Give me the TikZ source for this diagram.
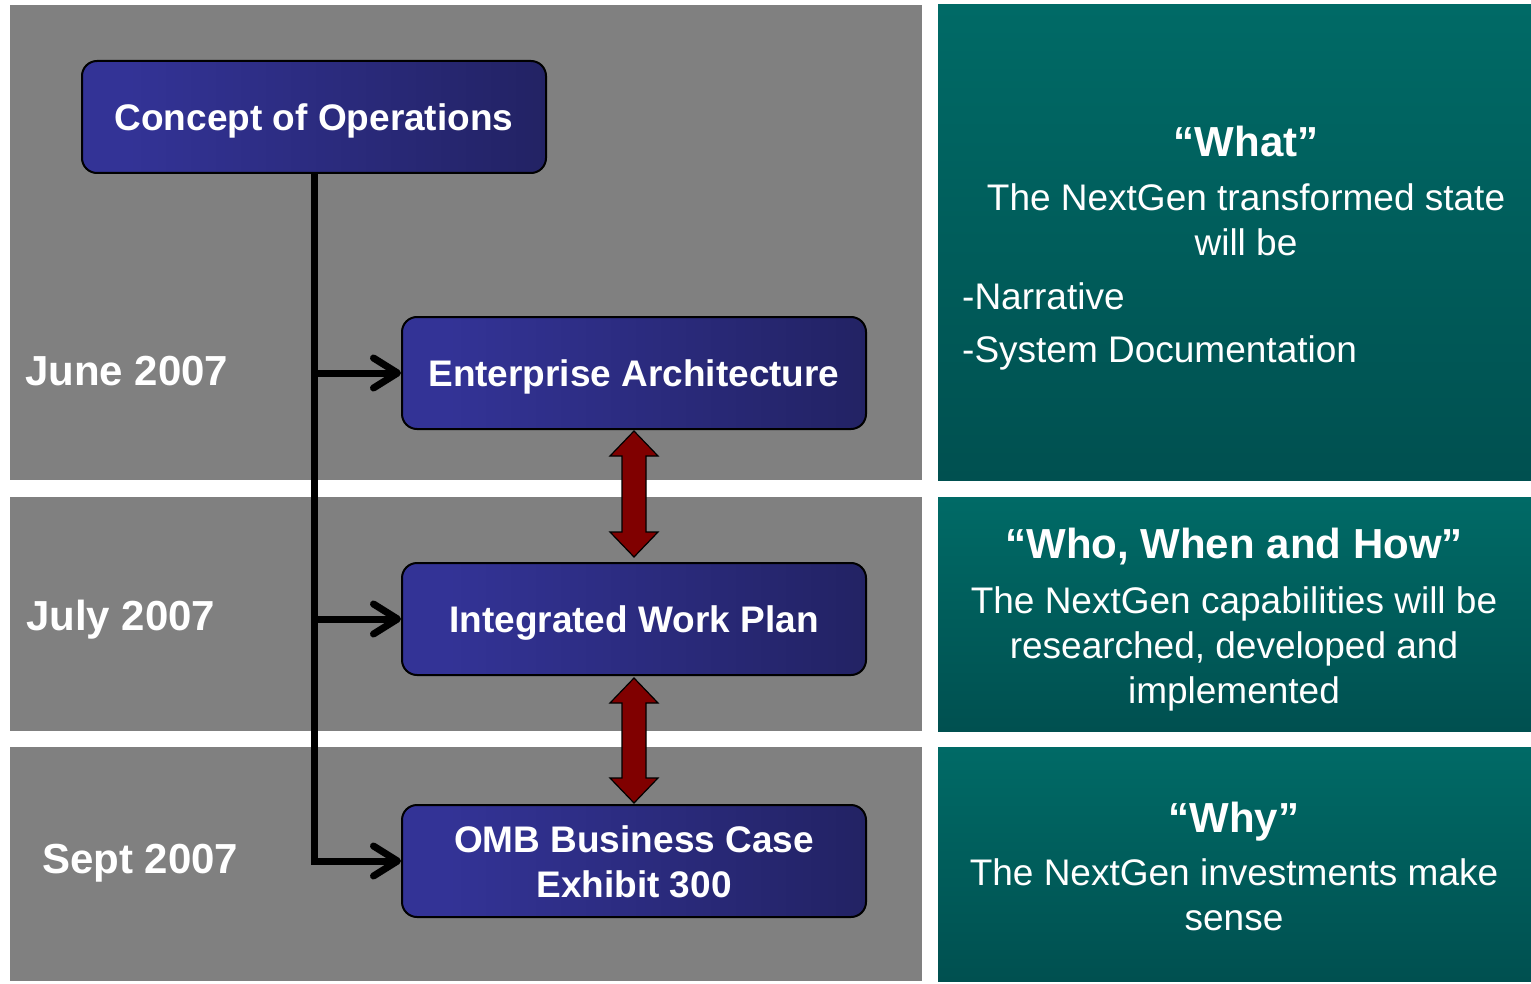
\documentclass[tikz,border=0pt]{standalone}
\usepackage{fontspec}
\setmainfont{Liberation Sans}
\usetikzlibrary{arrows.meta,calc}
\definecolor{panelgray}{RGB}{128,128,128}
\definecolor{tealtop}{RGB}{0,106,102}
\definecolor{tealbot}{RGB}{0,80,80}
\definecolor{boxL}{RGB}{51,51,150}
\definecolor{boxR}{RGB}{25,25,72}
\definecolor{arrred}{RGB}{128,0,0}
\pgfdeclarehorizontalshading{boxshade}{100bp}{color(0bp)=(boxL); color(30bp)=(boxL); color(100bp)=(boxR)}
\tikzset{
  graypanel/.style={fill=panelgray},
  tealpanel/.style={top color=tealtop,bottom color=tealbot,draw=none},
  stepbox/.style={draw=black,line width=2pt,rounded corners=15pt,shading=boxshade,
    minimum width=464pt,minimum height=112pt,inner sep=0pt,text=white,align=center,
    font=\fontsize{37}{45}\selectfont\bfseries,text height=27pt,text depth=0pt},
  datelbl/.style={text=white,font=\fontsize{42}{50}\selectfont\bfseries,anchor=base west,inner sep=0pt},
  ttl/.style={text=white,font=\fontsize{42}{50}\selectfont\bfseries,anchor=base,inner sep=0pt},
  body/.style={text=white,font=\fontsize{37}{45}\selectfont,anchor=base,inner sep=0pt,align=center},
  conn/.style={line width=7pt,draw=black,-{Straight Barb[length=24pt,width=30pt,round]}},
  dbl/.style={fill=arrred,draw=black,line width=1.2pt,line join=miter},
}
\begin{document}
\begin{tikzpicture}[x=1pt,y=-1pt]
\useasboundingbox (0,0) rectangle (1531,984);
\fill[white] (0,0) rectangle (1531,984);
% background panels
\fill[graypanel] (10,5) rectangle (922,480);
\fill[graypanel] (10,497) rectangle (922,731);
\fill[graypanel] (10,747) rectangle (922,981);
\shade[tealpanel] (938,5) rectangle (1531,480);
\shade[tealpanel] (938,497) rectangle (1531,731);
\shade[tealpanel] (938,747) rectangle (1531,981);
% dates
\node[datelbl] (d1) at (25,385) {June 2007};
\node[datelbl] (d2) at (26,630) {July 2007};
\node[datelbl] (d3) at (42,873) {Sept 2007};
% boxes
\node[stepbox] (conops) at (314,117) {Concept of Operations};
\node[stepbox] (ea) at (634,373) {Enterprise Architecture};
\node[stepbox] (iwp) at (634,619) {Integrated Work Plan};
\node[stepbox,text height=72pt] (omb) at (634,861) {OMB Business Case\\Exhibit 300};
% connectors
\draw[conn] (conops.south) |- (omb.west);
\draw[conn] (conops.south |- ea.west) -- (ea.west);
\draw[conn] (conops.south |- iwp.west) -- (iwp.west);
% double arrows
\coordinate (a1) at ($(ea.south)+(0,1)$);
\coordinate (b1) at ($(iwp.north)+(0,-5)$);
\coordinate (a2) at ($(iwp.south)+(0,2)$);
\coordinate (b2) at ($(omb.north)+(0,-1)$);
\foreach \A/\B in {a1/b1,a2/b2}{
\draw[dbl] (\A) -- ($(\A)+(24,25)$) -- ($(\A)+(12,25)$) -- ($(\B)+(12,-25)$) -- ($(\B)+(24,-25)$) -- (\B)
  -- ($(\B)+(-24,-25)$) -- ($(\B)+(-12,-25)$) -- ($(\A)+(-12,25)$) -- ($(\A)+(-24,25)$) -- cycle;
}
% right panel texts
\node[ttl] (t1) at (1246,157) {“What”};
\node[body] (b1t) at (1246,256) {The NextGen transformed state\\will be};
\node[body,anchor=base west,align=left] (b1l) at (962,309) {-Narrative};
\node[body,anchor=base west,align=left] (b1m) at (962,362) {-System Documentation};
\node[ttl] (t2) at (1234,558) {“Who, When and How”};
\node[body] (b2t) at (1234,703) {The NextGen capabilities will be\\researched, developed and\\implemented};
\node[ttl] (t3) at (1234,832) {“Why”};
\node[body] (b3t) at (1234,930) {The NextGen investments make\\sense};
\end{tikzpicture}
\end{document}
